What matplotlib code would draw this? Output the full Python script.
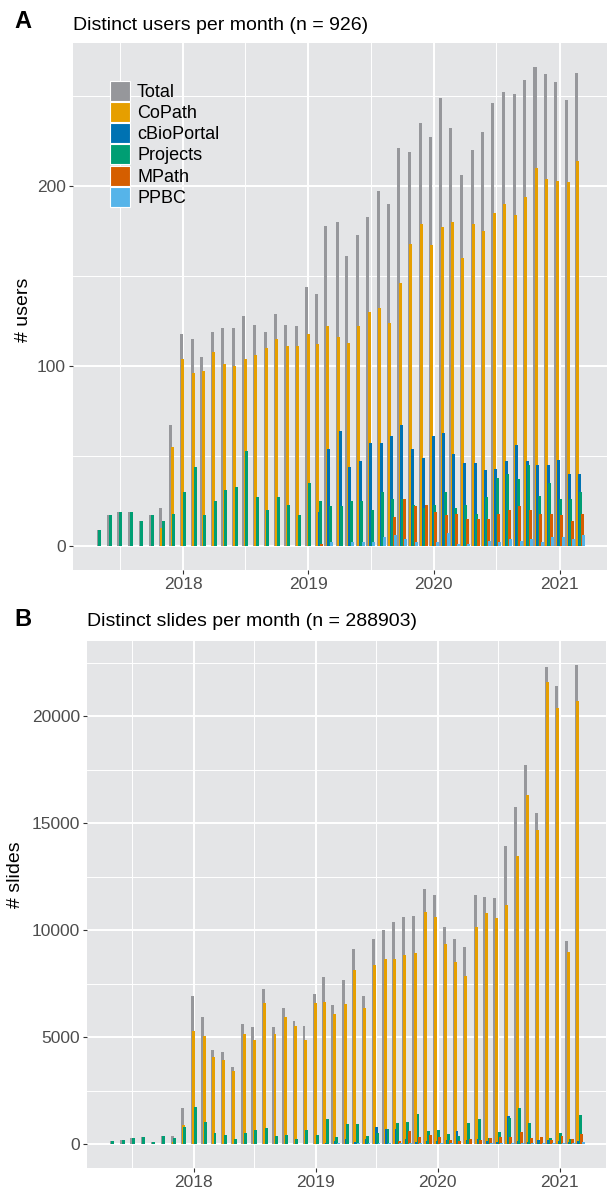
import matplotlib
matplotlib.use("Agg")
import matplotlib.pyplot as plt
import matplotlib.dates as mdates
from matplotlib.patches import Patch
import numpy as np
import pandas as pd

plt.rcParams['font.family'] = ['Liberation Sans', 'DejaVu Sans']

# ---------------- data ----------------
months = pd.date_range('2017-05-01', '2021-03-01', freq='MS')
series_names = ['Total', 'CoPath', 'cBioPortal', 'Projects', 'MPath', 'PPBC']
series_colors = ['#96979B', '#E69F00', '#0072B2', '#009E73', '#D55E00', '#56B4E9']
N = None

# Panel A: distinct users per month
users_total = [9, 17, 19, 19, 14, 17, 21, 67,
               118, 115, 105, 119, 121, 121, 128, 123, 119, 129, 123, 122,
               144, 140, 178, 180, 161, 173, 183, 197, 190, 221, 219, 235,
               227, 249, 232, 206, 220, 230, 246, 252, 251, 259, 266, 262,
               258, 248, 263]
users_copath = [N, N, N, N, N, N, 10, 55,
                104, 96, 97, 108, 101, 100, 104, 106, 110, 115, 111, 111,
                118, 112, 122, 116, 113, 122, 130, 132, 124, 146, 168, 179,
                167, 177, 180, 160, 179, 175, 185, 190, 184, 194, 210, 204,
                203, 202, 214]
users_cbio = [N, N, N, N, N, N, N, N,
              N, N, N, N, N, N, N, N, N, N, N, N,
              N, 19, 54, 64, 44, 47, 57, 57, 61, 67, 54, 49,
              61, 63, 51, 46, 46, 42, 43, 47, 56, 47, 45, 45,
              48, 40, 40]
users_projects = [9, 17, 19, 19, 14, 17, 14, 18,
                  30, 44, 17, 25, 31, 33, 53, 27, 20, 27, 23, 17,
                  35, 25, 22, 22, 25, 25, 20, 30, 26, 26, 23, 21,
                  23, 30, 21, 23, 18, 27, 38, 40, 37, 45, 28, 35,
                  26, 26, 30]
users_mpath = [N, N, N, N, N, N, N, N,
               N, N, N, N, N, N, N, N, N, N, N, N,
               N, 1, N, N, N, N, N, N, 16, 26, 22, 23,
               19, 17, 18, 15, 15, 15, 18, 20, 22, 20, 18, 18,
               17, 14, 18]
users_ppbc = [N, N, N, N, N, N, N, N,
              N, N, N, N, N, N, N, N, N, N, N, N,
              N, N, 2, N, 2, 2, 2, 5, 6, 4, 2, N,
              2, 7, 1, 1, N, 3, 2, 4, 3, 4, 2, 5,
              5, 4, 6]

# Panel B: distinct slides per month
slides_total = [140, 187, 280, 327, 93, 374, 374, 1680,
                6916, 5935, 4393, 4300, 3598, 5607, 5467, 7243, 5467, 6355, 5748, 5514,
                7010, 7804, 6496, 7664, 9112, 6916, 9580, 10000, 10374, 10608, 10655, 11916,
                11636, 10140, 9580, 9206, 11636, 11543, 11496, 13925, 15748, 17711, 15468, 22290,
                21402, 9486, 22384]
slides_copath = [N, N, N, N, N, N, 93, 888,
                 5280, 5047, 4066, 3925, 3411, 5140, 4860, 6589, 5140, 5935, 5514, 4860,
                 6589, 6636, 6075, 6542, 8131, 6355, 8365, 8645, 8645, 8832, 8925, 10841,
                 10608, 9346, 8505, 7851, 10140, 10795, 10561, 11169, 13458, 16309, 14673, 21589,
                 20374, 8972, 20701]
slides_cbio = [N, N, N, N, N, N, N, N,
               N, N, N, N, N, N, N, N, N, N, N, N,
               N, 50, 140, 234, 93, 234, 794, 700, 700, 234, 93, 140,
               140, 187, 607, 187, 234, 140, 93, 1308, 140, 93, 187, 187,
               140, 93, 140]
slides_projects = [140, 187, 280, 327, 93, 374, 280, 794,
                   1729, 1028, 514, 420, 234, 514, 654, 748, 374, 420, 234, 654,
                   420, 1168, 327, 935, 935, 374, 514, 700, 981, 1028, 1402, 607,
                   654, 467, 374, 981, 1168, 280, 560, 1215, 1682, 981, 93, 280,
                   514, 234, 1355]
slides_mpath = [N, N, N, N, N, N, N, N,
                N, N, N, N, N, N, N, N, N, N, N, N,
                N, 20, N, N, N, N, N, N, 140, 607, 327, 420,
                327, 187, 140, 234, 187, 280, 327, 327, 560, 280, 327, 187,
                374, 234, 467]
slides_ppbc = [N, N, N, N, N, N, N, N,
               N, N, N, N, N, N, N, N, N, N, N, N,
               N, N, 30, N, 30, 30, 40, 60, 60, 50, 30, N,
               30, 60, 20, 20, N, 40, 30, 50, 40, 50, 30, 60,
               60, 50, 93]

users = [users_total, users_copath, users_cbio, users_projects, users_mpath, users_ppbc]
slides = [slides_total, slides_copath, slides_cbio, slides_projects, slides_mpath, slides_ppbc]

# ---------------- layout ----------------
W, H = 609, 1190
fig = plt.figure(figsize=(W / 100, H / 100), dpi=100)


def px_rect(l, t, r, b):
    return [l / W, 1 - b / H, (r - l) / W, (b - t) / H]


A_TOP, A_BOT = 43, 570
B_TOP, B_BOT = 641, 1168
axA = fig.add_axes(px_rect(73, A_TOP, 607, A_BOT))
axB = fig.add_axes(px_rect(87, B_TOP, 606, B_BOT))

BG = '#E4E5E7'
STEP = 4.2   # days between dodged bars
BW = 8.8     # bar width in days
xnum = mdates.date2num(months.to_pydatetime())


def draw(ax, data):
    n_months = len(months)
    present = [[s for s in range(len(data)) if data[s][m] is not None] for m in range(n_months)]
    for s, (vals, col) in enumerate(zip(data, series_colors)):
        xs, hs = [], []
        for m in range(n_months):
            if vals[m] is None:
                continue
            pres = present[m]
            k = pres.index(s)
            off = (k - (len(pres) - 1) / 2.0) * STEP
            xs.append(xnum[m] + off)
            hs.append(vals[m])
        ax.bar(xs, hs, width=BW, color=col, linewidth=0, zorder=3 + s)


def style(ax, yticks, yminor, ylim):
    ax.set_facecolor(BG)
    for sp in ax.spines.values():
        sp.set_visible(False)
    x0 = mdates.date2num(pd.Timestamp('2018-01-01')) - 320
    x1 = mdates.date2num(pd.Timestamp('2021-01-01')) + 138
    ax.set_xlim(x0, x1)
    ax.set_ylim(*ylim)
    years = [pd.Timestamp(f'{y}-01-01') for y in (2018, 2019, 2020, 2021)]
    mids = [pd.Timestamp(f'{y}-07-01') for y in (2017, 2018, 2019, 2020)]
    ax.set_xticks(mdates.date2num(years))
    ax.set_xticklabels([str(y) for y in (2018, 2019, 2020, 2021)])
    ax.set_xticks(mdates.date2num(mids), minor=True)
    ax.set_yticks(yticks)
    ax.set_yticklabels([str(v) for v in yticks])
    ax.set_yticks(yminor, minor=True)
    ax.grid(True, which='major', color='white', linewidth=1.4, zorder=0)
    ax.grid(True, which='minor', color='white', linewidth=0.7, zorder=0)
    ax.set_axisbelow(True)
    ax.tick_params(which='major', length=3, width=0.8, color='#333333',
                   labelsize=12.5, labelcolor='#4D4D4D', pad=2)
    ax.tick_params(which='minor', length=0)


draw(axA, users)
style(axA, [0, 100, 200], [50, 150, 250], (-(A_BOT - 546) / 1.8, (546 - A_TOP) / 1.8))

draw(axB, slides)
ppx = 107 / 5000.0
style(axB, [0, 5000, 10000, 15000, 20000], [2500, 7500, 12500, 17500, 22500],
      (-(B_BOT - 1144) / ppx, (1144 - B_TOP) / ppx))

# legend (panel A)
handles = [Patch(facecolor=c, edgecolor='white', linewidth=0.8, label=n)
           for n, c in zip(series_names, series_colors)]
axA.legend(handles=handles, loc='upper left',
           bbox_to_anchor=((110 - 73) / 534, 1 - (81 - A_TOP) / (A_BOT - A_TOP)),
           frameon=False, fontsize=13, handlelength=1.11, handleheight=1.33,
           handletextpad=0.39, labelspacing=0.06, borderpad=0, borderaxespad=0)

# titles, panel letters, axis titles
fig.text(73 / W, 1 - 26 / H, 'Distinct users per month (n = 926)', fontsize=14,
         ha='left', va='center')
fig.text(87 / W, 1 - 622 / H, 'Distinct slides per month (n = 288903)', fontsize=14,
         ha='left', va='center')
fig.text(14 / W, 1 - 22 / H, 'A', fontsize=17, fontweight='bold', ha='left', va='center')
fig.text(14 / W, 1 - 620 / H, 'B', fontsize=17, fontweight='bold', ha='left', va='center')
fig.text(24 / W, 1 - 310 / H, '# users', fontsize=14, rotation=90, ha='center', va='center')
fig.text(15 / W, 1 - 875 / H, '# slides', fontsize=14, rotation=90, ha='center', va='center')

fig.savefig('out.png', dpi=100)
